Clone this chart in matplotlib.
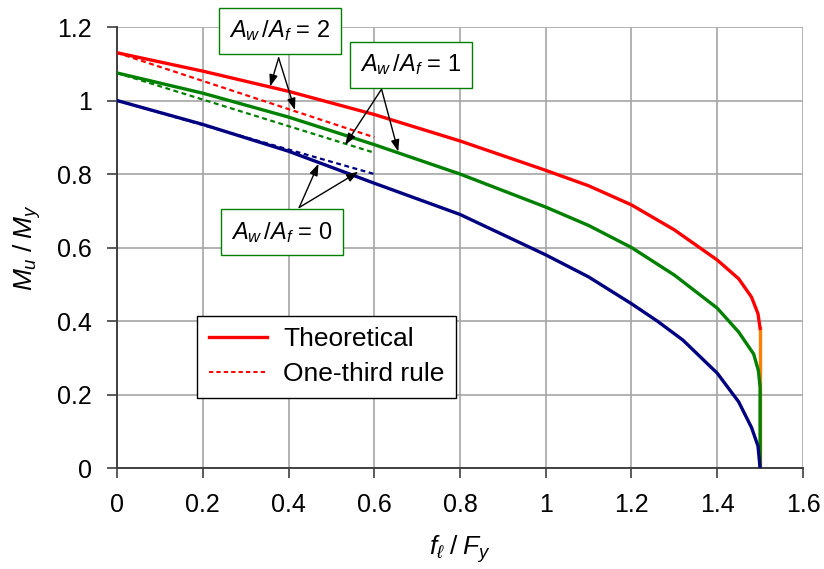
import matplotlib
matplotlib.use("Agg")
import matplotlib.pyplot as plt

plt.rcParams['font.family'] = ['Liberation Sans', 'DejaVu Sans']
plt.rcParams['mathtext.fontset'] = 'custom'
plt.rcParams['mathtext.rm'] = 'Liberation Sans'
plt.rcParams['mathtext.it'] = 'Liberation Sans:italic'

# theoretical curves, Aw/Af = 2, 1, 0
x_two = [0, 0.2, 0.4, 0.6, 0.8, 1.0, 1.1, 1.2, 1.3, 1.4, 1.45, 1.48, 1.495, 1.5]
y_two = [1.13, 1.08, 1.025, 0.962, 0.89, 0.81, 0.768, 0.716, 0.648, 0.566, 0.515, 0.465, 0.42, 0.38]
x_one = [0, 0.2, 0.4, 0.6, 0.8, 1.0, 1.1, 1.2, 1.3, 1.4, 1.45, 1.485, 1.496, 1.5, 1.5]
y_one = [1.075, 1.02, 0.955, 0.88, 0.80, 0.71, 0.66, 0.60, 0.525, 0.435, 0.37, 0.31, 0.265, 0.22, 0]
x_zero = [0, 0.2, 0.4, 0.6, 0.8, 1.0, 1.1, 1.2, 1.26, 1.32, 1.4, 1.45, 1.48, 1.495, 1.5]
y_zero = [1.0, 0.935, 0.862, 0.775, 0.69, 0.58, 0.52, 0.447, 0.4, 0.348, 0.258, 0.18, 0.11, 0.06, 0]
# vertical end of the Aw/Af = 2 curve
x_drop = [1.5, 1.5]
y_drop = [0.38, 0]

# one-third rule
x_rule = [0, 0.6]
y_rule_two = [1.13, 0.90]
y_rule_one = [1.075, 0.858]
y_rule_zero = [1.0, 0.80]

fig = plt.figure(figsize=(8.24, 5.69), dpi=100)
ax = fig.add_axes([0.142, 0.1775, 0.8325, 0.775])

dash = (0, (2.2, 1.6))
ax.plot(x_rule, y_rule_two, color='red', lw=1.6, ls=dash, zorder=3)
ax.plot(x_rule, y_rule_one, color='green', lw=1.6, ls=dash, zorder=3)
ax.plot(x_rule, y_rule_zero, color='navy', lw=1.6, ls=dash, zorder=3)

ax.plot(x_drop, y_drop, color='#FF8000', lw=2.4, zorder=4)
ax.plot(x_two, y_two, color='red', lw=2.4, zorder=4, label='Theoretical')
ax.plot(x_one, y_one, color='green', lw=2.4, zorder=4)
ax.plot(x_zero, y_zero, color='navy', lw=2.4, zorder=4)

# legend entry for the dashed lines
ax.plot([], [], color='red', lw=1.4, ls=dash, label='One-third rule')

ax.set_xlim(0, 1.6)
ax.set_ylim(0, 1.2)
ticks_x = [0, 0.2, 0.4, 0.6, 0.8, 1, 1.2, 1.4, 1.6]
ticks_y = [0, 0.2, 0.4, 0.6, 0.8, 1, 1.2]
ax.set_xticks(ticks_x)
ax.set_xticklabels(['%g' % t for t in ticks_x])
ax.set_yticks(ticks_y)
ax.set_yticklabels(['%g' % t for t in ticks_y])
ax.tick_params(labelsize=18, direction='out', length=7, width=1.2, color='#404040', pad=11)
ax.grid(True, color='#A6A6A6', lw=1.2)
ax.set_axisbelow(True)
for s in ['left', 'bottom']:
    ax.spines[s].set_color('#404040')
    ax.spines[s].set_linewidth(1.4)
for s in ['top', 'right']:
    ax.spines[s].set_visible(False)

ax.set_xlabel(r'$f_\ell\;/\;F_y$', fontsize=19, labelpad=12)
ax.set_ylabel(r'$M_u\;/\;M_y$', fontsize=19, labelpad=10)

leg = ax.legend(loc='lower left', bbox_to_anchor=(0.117, 0.159), fontsize=19,
                fancybox=False, edgecolor='black', framealpha=1, handlelength=2.2,
                handletextpad=0.6, borderpad=0.45, labelspacing=0.4, borderaxespad=0)
leg.get_frame().set_linewidth(1.0)

box = dict(boxstyle='square,pad=0.45', fc='white', ec='green', lw=1.0)
arr = dict(arrowstyle='-|>,head_length=0.7,head_width=0.25', color='black', lw=1.0, shrinkA=0, shrinkB=0)

def label(text, xt, yt, xs, ys, targets):
    ax.text(xt, yt, text, fontsize=17, ha='center', va='center', bbox=box, zorder=6)
    for tx, ty in targets:
        ax.annotate('', xy=(tx, ty), xytext=(xs, ys), arrowprops=arr, zorder=5)

label(r'$A_w\,/A_f$ = 2', 0.38, 1.19, 0.377, 1.116, [(0.357, 1.038), (0.415, 0.974)])
label(r'$A_w\,/A_f$ = 1', 0.686, 1.097, 0.617, 1.031, [(0.532, 0.879), (0.656, 0.861)])
label(r'$A_w\,/A_f$ = 0', 0.385, 0.642, 0.425, 0.709, [(0.47, 0.828), (0.563, 0.806)])

fig.savefig('out.png', dpi=100)
